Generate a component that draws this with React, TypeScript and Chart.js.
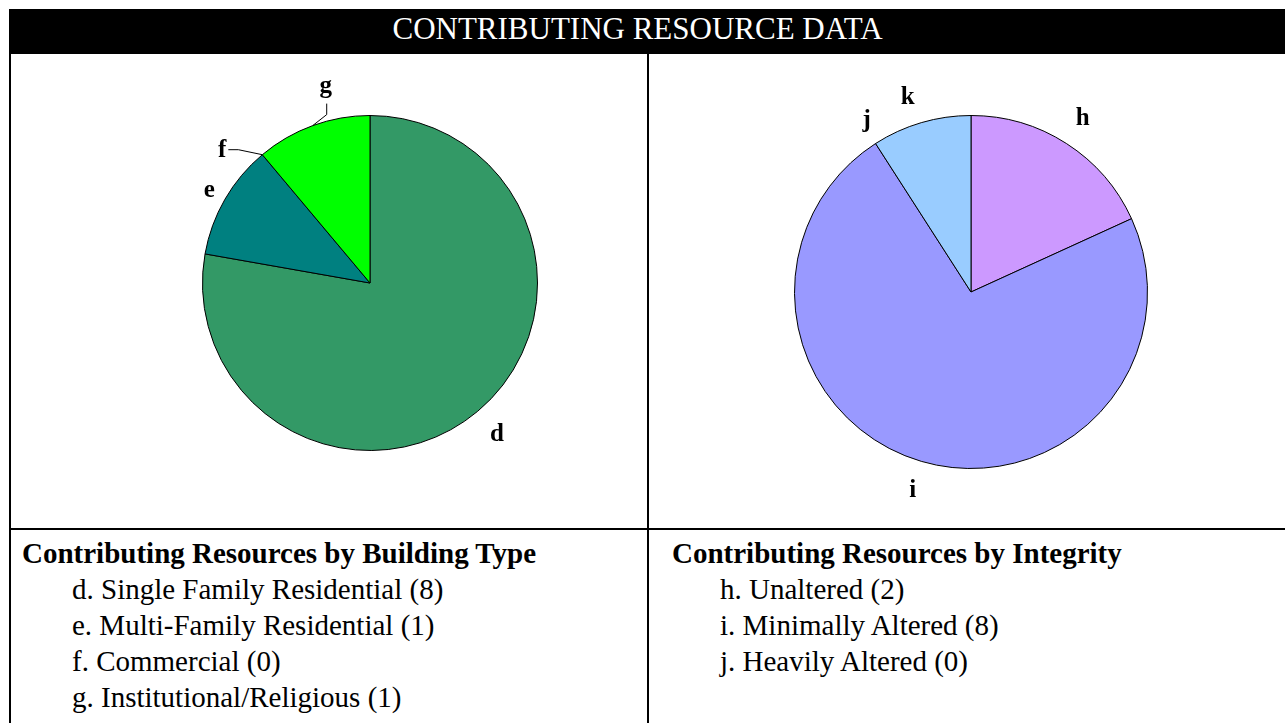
import React, { useEffect, useRef } from 'react';
import { Chart, registerables } from 'chart.js';

Chart.register(...registerables);

const HEADER_TITLE = 'CONTRIBUTING RESOURCE DATA';

// Left pie: building type
const typeLabels = ['d', 'e', 'f', 'g'];
const typeValues = [7, 1, 0, 1];
const typeColors = ['#339966', '#008080', '#FFFF99', '#00FF00'];
const typeHeading = 'Contributing Resources by Building Type';
const typeLegend = [
  'd. Single Family Residential (8)',
  'e. Multi-Family Residential (1)',
  'f. Commercial (0)',
  'g. Institutional/Religious (1)',
];

// Right pie: integrity
const integrityLabels = ['h', 'i', 'j', 'k'];
const integrityValues = [2, 8, 1, 0];
const integrityColors = ['#CC99FF', '#9999FF', '#99CCFF', '#FFFFCC'];
const integrityHeading = 'Contributing Resources by Integrity';
const integrityLegend = [
  'h. Unaltered (2)',
  'i. Minimally Altered (8)',
  'j. Heavily Altered (0)',
];

const SERIF = '"Liberation Serif", "Times New Roman", serif';

type Place = { dAngle?: number; dR?: number; leader?: 'left' | 'up' };

const sliceLabelPlugin = {
  id: 'sliceLabels',
  afterDatasetsDraw(chart: any, _args: any, opts: any) {
    const ctx = chart.ctx as CanvasRenderingContext2D;
    const meta = chart.getDatasetMeta(0);
    const labels = chart.data.labels as string[];
    const place: Place[] = (opts && opts.place) || [];
    ctx.save();
    ctx.font = `bold ${opts.fontSize || 24}px ${SERIF}`;
    ctx.fillStyle = '#000';
    ctx.strokeStyle = '#000';
    ctx.lineWidth = 1;
    ctx.textBaseline = 'middle';
    meta.data.forEach((arc: any, i: number) => {
      const p = arc.getProps(['x', 'y', 'startAngle', 'endAngle', 'outerRadius'], true);
      const cfg = place[i] || {};
      const mid = (p.startAngle + p.endAngle) / 2;
      if (cfg.leader === 'left') {
        const ex = p.x + Math.cos(mid) * p.outerRadius;
        const ey = p.y + Math.sin(mid) * p.outerRadius;
        const bx = ex - 24;
        const by = ey - 5;
        const cx = bx - 10;
        ctx.beginPath();
        ctx.moveTo(ex, ey);
        ctx.lineTo(bx, by);
        ctx.lineTo(cx, by);
        ctx.stroke();
        ctx.textAlign = 'right';
        ctx.fillText(labels[i], cx - 2, by + 1);
        return;
      }
      if (cfg.leader === 'up') {
        const ex = p.x + Math.cos(mid) * p.outerRadius;
        const ey = p.y + Math.sin(mid) * p.outerRadius;
        const bx = ex + 14;
        const by = ey - 11;
        const ty = by - 11;
        ctx.beginPath();
        ctx.moveTo(ex, ey);
        ctx.lineTo(bx, by);
        ctx.lineTo(bx, ty);
        ctx.stroke();
        ctx.textAlign = 'center';
        ctx.fillText(labels[i], bx - 1, ty - 17);
        return;
      }
      const ang = mid + ((cfg.dAngle || 0) * Math.PI) / 180;
      const R = p.outerRadius + (cfg.dR ?? 30);
      ctx.textAlign = 'center';
      ctx.fillText(labels[i], p.x + Math.cos(ang) * R, p.y + Math.sin(ang) * R);
    });
    ctx.restore();
  },
};

type PieProps = {
  labels: string[];
  values: number[];
  colors: string[];
  left: number;
  top: number;
  width: number;
  height: number;
  padding: { left: number; right: number; top: number; bottom: number };
  place: Place[];
};

function PieChart(props: PieProps) {
  const ref = useRef<HTMLCanvasElement | null>(null);
  useEffect(() => {
    if (!ref.current) return;
    const chart = new Chart(ref.current, {
      type: 'pie',
      data: {
        labels: props.labels,
        datasets: [
          {
            data: props.values,
            backgroundColor: props.colors,
            borderColor: '#000000',
            borderWidth: 1,
          },
        ],
      },
      options: {
        animation: false,
        responsive: false,
        maintainAspectRatio: false,
        layout: { padding: props.padding },
        plugins: {
          legend: { display: false },
          tooltip: { enabled: false },
          sliceLabels: { place: props.place, fontSize: 25 },
        } as any,
      },
      plugins: [sliceLabelPlugin as any],
    });
    return () => chart.destroy();
  }, []);
  return (
    <canvas
      ref={ref}
      width={props.width}
      height={props.height}
      style={{
        position: 'absolute',
        left: props.left,
        top: props.top,
        width: props.width,
        height: props.height,
      }}
    />
  );
}

export default function App() {
  const textStyle: React.CSSProperties = {
    position: 'absolute',
    fontFamily: SERIF,
    fontSize: 29,
    lineHeight: '36px',
    color: '#000',
    whiteSpace: 'nowrap',
  };
  return (
    <div
      style={{
        position: 'fixed',
        left: 0,
        top: 0,
        width: 1285,
        height: 723,
        overflow: 'hidden',
        background: '#fff',
      }}
    >
      {/* header bar */}
      <div
        style={{
          position: 'absolute',
          left: 9,
          top: 9,
          width: 1290,
          height: 45,
          background: '#000',
        }}
      />
      <div
        style={{
          position: 'absolute',
          left: 9,
          top: 9,
          width: 1257,
          textAlign: 'center',
          color: '#fff',
          fontFamily: SERIF,
          fontSize: 31,
          lineHeight: '40px',
          whiteSpace: 'nowrap',
        }}
      >
        {HEADER_TITLE}
      </div>
      {/* table lines */}
      <div style={{ position: 'absolute', left: 9, top: 54, width: 2, height: 700, background: '#000' }} />
      <div style={{ position: 'absolute', left: 647, top: 54, width: 2, height: 700, background: '#000' }} />
      <div style={{ position: 'absolute', left: 9, top: 528, width: 1290, height: 2, background: '#000' }} />

      <PieChart
        labels={typeLabels}
        values={typeValues}
        colors={typeColors}
        left={11}
        top={54}
        width={636}
        height={474}
        padding={{ left: 191, right: 109, top: 61, bottom: 77 }}
        place={[{ dR: 30 }, { dR: 18 }, { leader: 'left' }, { leader: 'up' }]}
      />
      <PieChart
        labels={integrityLabels}
        values={integrityValues}
        colors={integrityColors}
        left={649}
        top={54}
        width={636}
        height={474}
        padding={{ left: 145, right: 137, top: 61, bottom: 59 }}
        place={[{ dR: 30 }, { dR: 30 }, { dAngle: -15, dR: 24 }, { dAngle: -18, dR: 28 }]}
      />

      {/* left legend */}
      <div style={{ ...textStyle, left: 22, top: 535, fontWeight: 'bold' }}>{typeHeading}</div>
      <div style={{ ...textStyle, left: 72, top: 571 }}>
        {typeLegend.map((t) => (
          <div key={t}>{t}</div>
        ))}
      </div>
      {/* right legend */}
      <div style={{ ...textStyle, left: 672, top: 535, fontWeight: 'bold' }}>{integrityHeading}</div>
      <div style={{ ...textStyle, left: 720, top: 571 }}>
        {integrityLegend.map((t) => (
          <div key={t}>{t}</div>
        ))}
      </div>
    </div>
  );
}
